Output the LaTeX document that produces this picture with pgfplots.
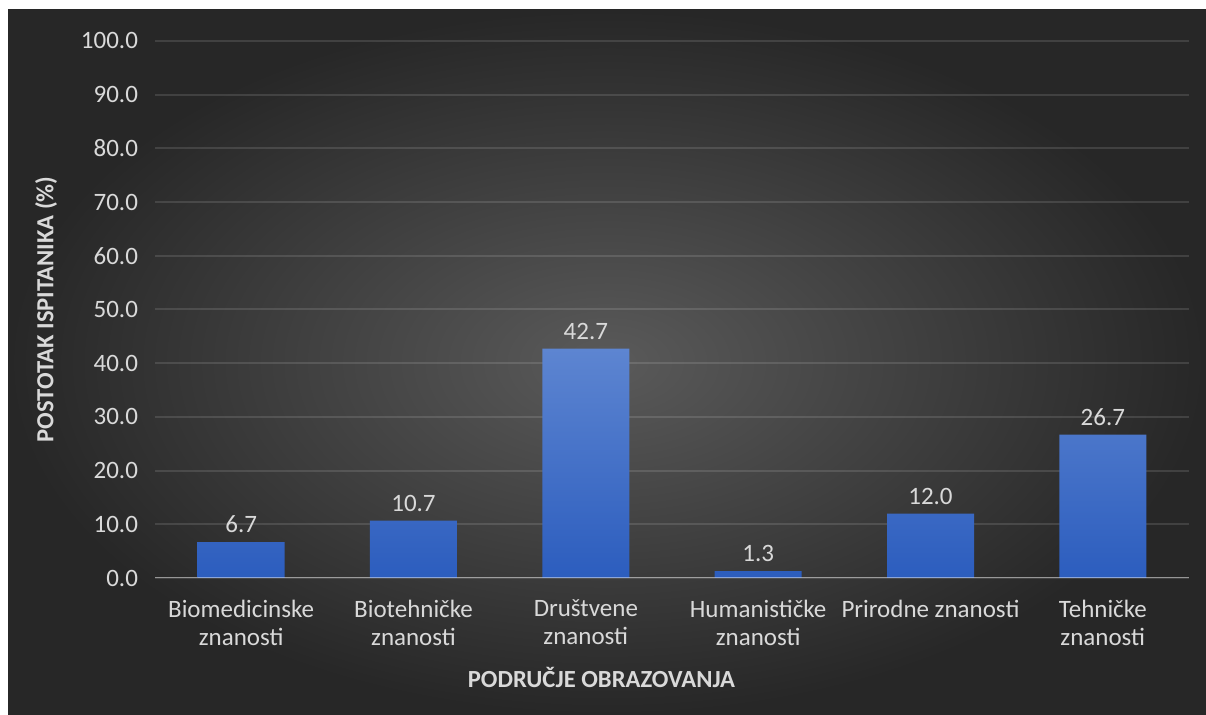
\documentclass[border=0pt]{standalone}
\usepackage{pgfplots}
\pgfplotsset{compat=1.18}
\usepackage{fontspec}
\setmainfont{Carlito}

\definecolor{txt}{HTML}{D9D9D9}
\definecolor{bgin}{HTML}{5A5A5A}
\definecolor{bgout}{HTML}{272727}
\definecolor{bartop}{HTML}{5D85D1}
\definecolor{barbot}{HTML}{2C5DBE}

\begin{document}
\begin{tikzpicture}
% page: 1206 x 715 px, 1 px = 0.5 pt
\fill[white] (0,0) rectangle (603pt,357.5pt);
\shade[inner color=bgin, outer color=bgout] (4pt,0) rectangle (603pt,352.5pt);
\begin{axis}[
    at={(77.5pt,68.5pt)}, anchor=south west,
    scale only axis,
    width=517pt, height=268.5pt,
    ybar, bar width=43.5pt,
    xmin=-0.5, xmax=5.5,
    ymin=0, ymax=100,
    xtick={0,...,5},
    xticklabels={Biomedicinske\\znanosti, Biotehničke\\znanosti, Društvene\\znanosti,
                 Humanističke\\znanosti, Prirodne znanosti, Tehničke\\znanosti},
    ytick={0,10,...,100},
    yticklabel={\pgfmathprintnumber[fixed,fixed zerofill,precision=1,assume math mode=true]{\tick}},
    major tick length=0pt,
    axis line style={draw=none},
    ymajorgrids,
    grid style={white, opacity=0.12, line width=1pt},
    xticklabel style={align=center, text=txt, font=\fontsize{12.5}{13.8}\selectfont, yshift=-7.5pt},
    yticklabel style={text=txt, font=\fontsize{12.5}{14}\selectfont, xshift=-5pt},
    xlabel={PODRUČJE OBRAZOVANJA},
    ylabel={POSTOTAK ISPITANIKA (\%)},
    xlabel style={at={(axis description cs:0.4318,-0.1844)}, anchor=center,
                  text=txt, font=\fontsize{12.3}{14}\selectfont\bfseries},
    ylabel style={at={(axis description cs:-0.1054,0.5)}, anchor=center, rotate=0,
                  text=txt, font=\fontsize{12.3}{14}\selectfont\bfseries},
    nodes near coords={\pgfmathprintnumber[fixed,fixed zerofill,precision=1,assume math mode=true]{\pgfplotspointmeta}},
    every node near coord/.append style={text=txt, font=\fontsize{12.5}{14}\selectfont, yshift=1pt},
]
\addplot[draw=none, top color=bartop, bottom color=barbot] coordinates {
    (0,6.7) (1,10.7) (2,42.7) (3,1.3) (4,12.0) (5,26.7)
};
\draw[white, opacity=0.45, line width=1pt] (axis cs:-0.5,0) -- (axis cs:5.5,0);
\end{axis}
\end{tikzpicture}
\end{document}
